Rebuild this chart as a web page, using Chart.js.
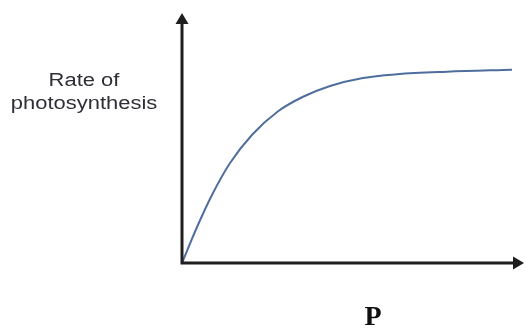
<!DOCTYPE html>
<html>
<head>
<meta charset="utf-8">
<script src="https://cdn.jsdelivr.net/npm/chart.js@4"></script>
<style>
  html, body { margin: 0; padding: 0; background: #fff; }
  #wrap { width: 525px; height: 329px; }
</style>
</head>
<body>
<div id="wrap"><canvas id="chart" width="525" height="329"></canvas></div>
<script>
// values (arbitrary units, axes 0..10)
const xValues = [0, 0.44, 0.88, 1.40, 2.05, 2.81, 3.54, 4.33, 5.29, 6.29, 7.75, 9.65];
const yValues = [0, 1.44, 2.73, 3.99, 5.13, 6.07, 6.65, 7.08, 7.40, 7.55, 7.65, 7.73];
const yLabelLines = ["Rate of", "photosynthesis"];
const xLabel = "P";

const points = xValues.map((x, i) => ({x: x, y: yValues[i]}));

// axes with arrow heads + the two labels
const axesPlugin = {
  id: 'axes',
  afterDraw(chart) {
    const ctx = chart.ctx;
    const xs = chart.scales.x, ys = chart.scales.y;
    const x0 = xs.getPixelForValue(0), y0 = ys.getPixelForValue(0);
    const xEnd = xs.getPixelForValue(xs.max), yEnd = ys.getPixelForValue(ys.max);

    ctx.save();
    ctx.strokeStyle = '#1e1e1e';
    ctx.fillStyle = '#1e1e1e';
    ctx.lineWidth = 3;
    ctx.beginPath();
    ctx.moveTo(x0, y0);
    ctx.lineTo(x0, yEnd + 10);
    ctx.moveTo(x0 - 1.5, y0);
    ctx.lineTo(xEnd - 10, y0);
    ctx.stroke();

    // arrow heads
    ctx.beginPath();
    ctx.moveTo(x0, yEnd);
    ctx.lineTo(x0 - 6.5, yEnd + 11);
    ctx.lineTo(x0 + 6.5, yEnd + 11);
    ctx.closePath();
    ctx.fill();
    ctx.beginPath();
    ctx.moveTo(xEnd, y0);
    ctx.lineTo(xEnd - 11, y0 - 6.5);
    ctx.lineTo(xEnd - 11, y0 + 6.5);
    ctx.closePath();
    ctx.fill();

    // y label, horizontal, slightly stretched like the original
    ctx.fillStyle = '#2e2e36';
    ctx.font = '18px "Liberation Sans", Arial, sans-serif';
    ctx.textAlign = 'center';
    ctx.textBaseline = 'alphabetic';
    const baselines = [86, 109];
    yLabelLines.forEach((line, i) => {
      ctx.save();
      ctx.translate(84, baselines[i]);
      ctx.scale(1.22, 1);
      ctx.fillText(line, 0, 0);
      ctx.restore();
    });

    // x label
    ctx.fillStyle = '#111';
    ctx.font = 'bold 28px "Liberation Serif", "Times New Roman", serif';
    ctx.fillText(xLabel, 373, 325);
    ctx.restore();
  }
};

new Chart("chart", {
  type: "line",
  data: {
    datasets: [{
      data: points,
      borderColor: "#4f6e9e",
      borderWidth: 2,
      pointRadius: 0,
      fill: false,
      cubicInterpolationMode: 'monotone'
    }]
  },
  options: {
    responsive: false,
    animation: false,
    layout: { padding: { left: 182, right: 1, top: 13, bottom: 66 } },
    plugins: { legend: { display: false }, tooltip: { enabled: false } },
    scales: {
      x: { type: 'linear', min: 0, max: 10, display: false },
      y: { type: 'linear', min: 0, max: 10, display: false }
    }
  },
  plugins: [axesPlugin]
});
</script>
</body>
</html>
